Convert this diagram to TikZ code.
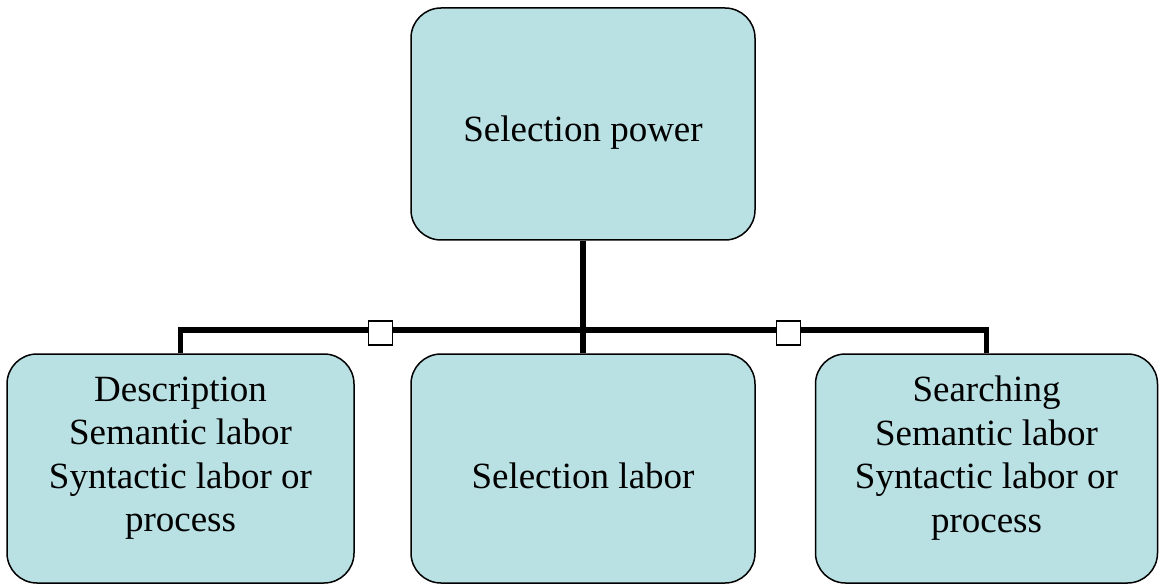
\documentclass[tikz,border=0pt]{standalone}
\usepackage{fontspec}
\setmainfont{Liberation Serif}
\definecolor{boxfill}{RGB}{185,224,227}
\begin{document}
\begin{tikzpicture}[x=1pt,y=-1pt,
  box/.style={draw=black, line width=1.5pt, fill=boxfill, rounded corners=30pt, inner sep=0pt},
  txt/.style={inner sep=0pt, align=center, font=\fontsize{37}{43.5}\selectfont},
  conn/.style={draw=black, line width=5.5pt},
  sq/.style={draw=black, line width=1.5pt, fill=white, minimum size=24pt, inner sep=0pt}]
\useasboundingbox (0,0) rectangle (1159,585);
\node[box, minimum width=344pt, minimum height=232pt] (top) at (583,124) {};
\node[box, minimum width=347pt, minimum height=229pt] (left) at (180.5,468.5) {};
\node[box, minimum width=344pt, minimum height=229pt] (mid) at (583,468.5) {};
\node[box, minimum width=342pt, minimum height=229pt] (right) at (986.5,468.5) {};
\node[txt] (topT) at (583,133) {Selection power};
\node[txt] (leftT) at (180.5,458) {Description\\Semantic labor\\Syntactic labor or\\process};
\node[txt] (midT) at (583,476) {Selection labor};
\node[txt] (rightT) at (986.5,458) {Searching\\Semantic labor\\Syntactic labor or\\process};
\coordinate (jc) at (583,330);
\draw[conn] (top.south) -- (mid.north);
\draw[conn] (left.north) |- (jc) -| (right.north);
\node[sq] (s1) at (380.5,333) {};
\node[sq] (s2) at (788.5,333) {};
\end{tikzpicture}
\end{document}
